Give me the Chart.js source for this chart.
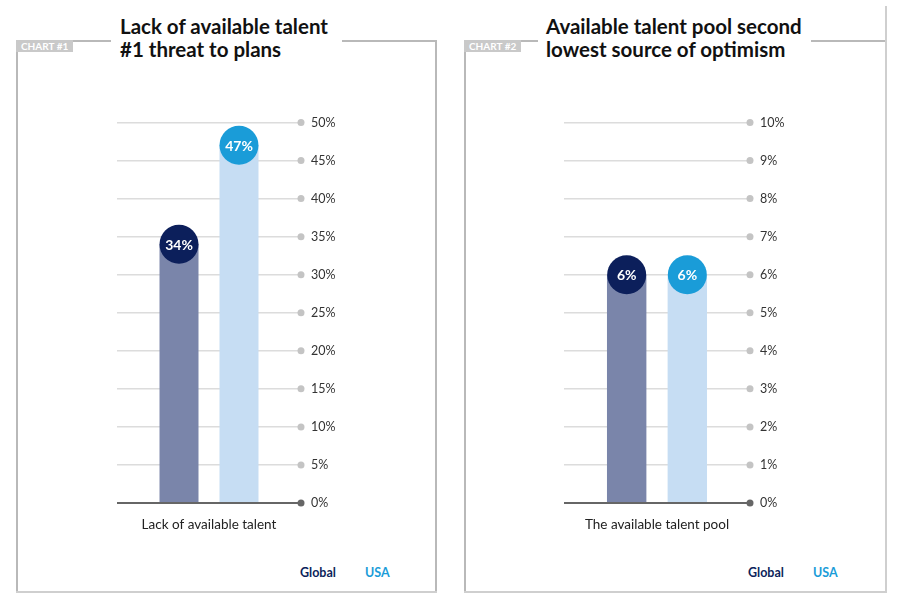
<!DOCTYPE html>
<html>
<head>
<meta charset="utf-8">
<script src="https://cdn.jsdelivr.net/npm/chart.js@4.4.1/dist/chart.umd.min.js"></script>
<style>
  body { margin: 0; width: 900px; height: 606px; background: #fff; position: relative; overflow: hidden;
         font-family: Lato, "Open Sans", sans-serif; color: #1a1a1a; }
  .ln { position: absolute; background: #b9b9b9; }
  .tag { position: absolute; top: 40px; height: 12px; width: 57px; background: #c9c9c9; color: #fff;
         font: 700 10px Lato, sans-serif; line-height: 12px; padding-left: 5px; box-sizing: border-box; }
  .title { position: absolute; top: 15px; font: 700 20.5px Lato, sans-serif; line-height: 23px; color: #111; }
  .cv { position: absolute; top: 105px; }
  .leg { position: absolute; top: 565px; font: 700 12.5px Lato, sans-serif; }
</style>
</head>
<body>
<!-- panel 1 frame -->
<div class="ln" style="left:16px;top:40px;width:95px;height:1.5px"></div>
<div class="ln" style="left:342px;top:40px;width:95px;height:1.5px"></div>
<div class="ln" style="left:16px;top:40px;width:1.5px;height:552px"></div>
<div class="ln" style="left:435px;top:40px;width:1.5px;height:552px"></div>
<div class="ln" style="left:16px;top:591px;width:421px;height:2px;background:#cfcfcf"></div>
<div class="tag" style="left:16px">CHART #1</div>
<div class="title" style="left:120px">Lack of available talent<br>#1 threat to plans</div>

<!-- panel 2 frame -->
<div class="ln" style="left:464px;top:40px;width:74px;height:1.5px"></div>
<div class="ln" style="left:811px;top:40px;width:75px;height:1.5px"></div>
<div class="ln" style="left:464px;top:40px;width:1.5px;height:552px"></div>
<div class="ln" style="left:885px;top:6px;width:2px;height:586px;background:#cfcfcf"></div>
<div class="ln" style="left:464px;top:591px;width:423px;height:2px;background:#cfcfcf"></div>
<div class="tag" style="left:464px">CHART #2</div>
<div class="title" style="left:546px">Available talent pool second<br>lowest source of optimism</div>

<canvas id="c1" class="cv" style="left:107px" width="254" height="435"></canvas>
<canvas id="c2" class="cv" style="left:554px" width="256" height="435"></canvas>

<script>
// data
const seriesNames = ['Global', 'USA'];
const chart1Categories = ['Lack of available talent'];
const chart1Global = [34];
const chart1USA = [47];
const chart1Ticks = { max: 50, step: 5 };

const chart2Categories = ['The available talent pool'];
const chart2Global = [6];
const chart2USA = [6];
const chart2Ticks = { max: 10, step: 1 };

const barColors = ['#7a85aa', '#c6ddf3'];
const bubbleColors = ['#0c1f5b', '#1a9cd8'];

// dot at the right end of each grid line
const gridDots = {
  id: 'gridDots',
  beforeDatasetsDraw(chart) {
    const y = chart.scales.y, ctx = chart.ctx, x = chart.chartArea.right;
    ctx.save();
    y.ticks.forEach(t => {
      const py = y.getPixelForValue(t.value);
      ctx.beginPath();
      ctx.arc(x, py, 3.5, 0, Math.PI * 2);
      ctx.fillStyle = t.value === 0 ? '#666' : '#c4c4c4';
      ctx.fill();
    });
    ctx.restore();
  }
};

// round value badge sitting on top of each bar
const bubbles = {
  id: 'bubbles',
  afterDatasetsDraw(chart) {
    const ctx = chart.ctx;
    ctx.save();
    chart.data.datasets.forEach((ds, di) => {
      chart.getDatasetMeta(di).data.forEach((bar, i) => {
        ctx.beginPath();
        ctx.arc(bar.x, bar.y, 19.5, 0, Math.PI * 2);
        ctx.fillStyle = bubbleColors[di];
        ctx.fill();
        ctx.fillStyle = '#fff';
        ctx.font = '700 14px Lato, sans-serif';
        ctx.textAlign = 'center';
        ctx.textBaseline = 'middle';
        ctx.fillText(ds.data[i] + '%', bar.x, bar.y + 1);
      });
    });
    ctx.restore();
  }
};

function makeChart(id, cats, g, u, ticks) {
  return new Chart(document.getElementById(id), {
    type: 'bar',
    data: {
      labels: cats,
      datasets: [
        { label: seriesNames[0], data: g, backgroundColor: barColors[0] },
        { label: seriesNames[1], data: u, backgroundColor: barColors[1] }
      ]
    },
    options: {
      responsive: false,
      animation: false,
      layout: { padding: { left: 10, top: 7, right: 0, bottom: 4 } },
      categoryPercentage: 0.652,
      barPercentage: 0.65,
      plugins: { legend: { display: false }, tooltip: { enabled: false } },
      scales: {
        x: {
          grid: { display: false },
          border: { display: false },
          ticks: { color: '#222', font: { family: 'Lato', size: 13.5 }, padding: 6 },
          afterFit: (s) => { s.height = 33; }
        },
        y: {
          position: 'right',
          min: 0, max: ticks.max,
          border: { display: false },
          grid: {
            drawTicks: false,
            color: (c) => c.tick && c.tick.value === 0 ? '#666' : '#dcdcdc',
            lineWidth: (c) => c.tick && c.tick.value === 0 ? 2 : 1.5
          },
          ticks: {
            stepSize: ticks.step,
            padding: 10,
            color: '#333',
            font: { family: 'Lato', size: 12.5 },
            callback: (v) => v + '%'
          },
          afterFit: (s) => { s.width = 60; }
        }
      }
    },
    plugins: [gridDots, bubbles]
  });
}

makeChart('c1', chart1Categories, chart1Global, chart1USA, chart1Ticks);
makeChart('c2', chart2Categories, chart2Global, chart2USA, chart2Ticks);

// text legend under each chart
function legend(left) {
  seriesNames.forEach((n, i) => {
    const s = document.createElement('div');
    s.className = 'leg';
    s.style.left = (left + i * 65) + 'px';
    s.style.color = bubbleColors[i];
    s.textContent = n;
    document.body.appendChild(s);
  });
}
legend(300);
legend(748);
</script>
</body>
</html>
